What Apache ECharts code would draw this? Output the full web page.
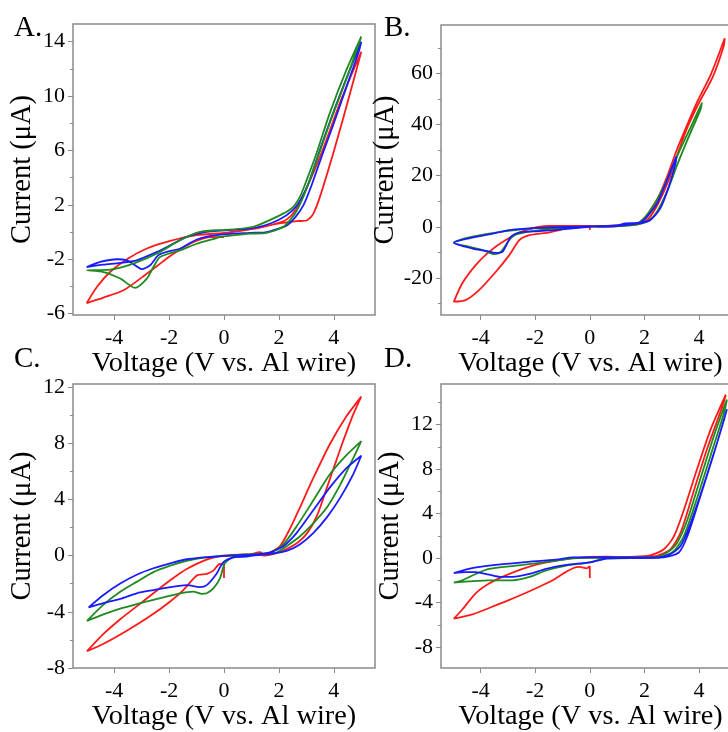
<!DOCTYPE html>
<html>
<head>
<meta charset="utf-8">
<script src="https://cdn.jsdelivr.net/npm/echarts@6/dist/echarts.min.js"></script>
<style>
html,body{margin:0;padding:0;background:#fff;overflow:hidden;}
#main{width:745px;height:732px;}
</style>
</head>
<body>
<div id="main"></div>
<script>
// voltage (V) / current (uA) pairs
var redA = [[0,-0.37],[-0.51,-0.37],[-1.24,-0.86],[-1.96,-1.76],[-2.44,-2.5],[-3.0,-3.35],[-3.66,-4.28],[-4.39,-4.82],[-5.0,-5.22],
  [-4.63,-4.04],[-4.15,-2.94],[-3.54,-2.0],[-2.81,-1.21],[-1.96,-0.65],[-0.99,-0.23],[0,-0.06],[1.0,0.22],[1.9,0.62],[2.3,0.95],
  [2.6,1.6],[3.0,3.2],[3.55,5.8],[4.3,9.9],[5.0,13.26],[4.82,11.9],[4.4,8.8],[3.98,5.8],[3.49,2.57],[3.25,1.34],[3.01,0.85],
  [2.64,0.8],[1.92,0.6],[1.07,0.23],[0.2,0.0]];
var greenA = [[0,0.15],[1.07,0.39],[1.92,1.12],[2.46,1.73],[2.76,2.57],[3.01,3.82],[3.37,5.8],[3.85,8.73],[4.46,11.92],[5.0,14.37],
  [4.52,11.6],[3.92,8.4],[3.45,5.7],[3.1,3.7],[2.85,2.4],[2.6,1.4],[2.35,0.75],[2.16,0.38],[1.55,-0.06],[0.94,-0.12],[-0.15,-0.36],
  [-0.27,-0.44],[-0.99,-0.86],[-1.6,-1.35],[-2.33,-1.84],[-2.57,-2.57],[-2.81,-3.42],[-3.24,-4.1],[-3.78,-3.42],[-4.39,-2.94],[-4.99,-2.81],
  [-4.14,-2.76],[-3.3,-2.32],[-2.44,-1.58],[-1.6,-0.6],[-0.87,0.01],[0,0.15]];
var blueA = [[0,0.12],[0.94,0.25],[1.5,0.5],[2.0,0.9],[2.5,1.6],[2.8,2.4],[3.1,3.7],[3.45,5.8],[4.0,8.9],[4.5,11.5],[5.0,14.0],
  [4.9,13.2],[4.5,10.9],[4.0,8.0],[3.6,5.8],[3.2,3.5],[2.9,2.0],[2.6,1.1],[2.3,0.5],[2.0,0.25],[1.5,-0.02],[0.94,-0.06],[-0.27,-0.22],
  [-0.99,-0.55],[-1.6,-1.21],[-2.09,-1.46],[-2.39,-1.7],[-2.69,-2.44],[-3.0,-2.73],[-3.24,-2.44],[-3.54,-2.08],[-3.9,-2.0],[-4.51,-2.2],[-5.0,-2.57],
  [-4.4,-2.4],[-3.78,-2.27],[-3.18,-2.08],[-2.44,-1.46],[-1.96,-0.97],[-1.36,-0.35],[-0.75,-0.03],[0,0.12]];

var redB = [[0,-1.3],[0,0],[-0.62,0.0],[-1.11,-1.3],[-1.48,-2.2],[-2.21,-3.26],[-2.58,-5.2],[-2.95,-11.1],[-3.44,-17.6],[-4.06,-24.8],
  [-4.55,-28.7],[-4.98,-29.3],[-4.67,-22.1],[-4.18,-15.0],[-3.69,-9.8],[-3.08,-5.2],[-2.34,-1.3],[-1.48,0.3],[0,0.3],[1.0,0.5],[1.72,1.3],
  [2.09,3.9],[2.46,10.4],[2.83,19.6],[3.2,30.5],[3.57,40.0],[3.94,49.0],[4.43,59.5],[4.94,73.7],[4.9,70.5],[4.5,58.5],[4.0,48.5],
  [3.6,39.5],[3.25,29.5],[2.9,18.5],[2.5,9.0],[2.15,3.2],[1.8,1.0],[1.0,0.3],[0.2,0.1]];
var greenB = [[0,0],[-0.62,-0.3],[-1.23,-0.65],[-2.09,-1.7],[-2.71,-3.0],[-2.95,-5.2],[-3.26,-9.8],[-3.5,-10.7],[-3.93,-9.1],[-4.43,-7.8],
  [-4.98,-6.25],[-4.3,-3.9],[-3.08,-1.7],[-1.85,-0.4],[0,0],[1.0,0.4],[1.5,0.9],[1.84,1.96],[2.21,6.5],[2.71,15.6],[3.2,27.7],[3.7,39.1],
  [4.1,48.3],[4.06,46],[3.57,33.9],[3.2,24.2],[2.83,13.8],[2.46,5.9],[2.09,2.0],[1.5,0.6],[0.5,0.1]];
var blueB = [[0,0],[-0.62,-0.65],[-1.85,-1.7],[-2.58,-2.2],[-2.89,-3.9],[-3.2,-9.8],[-3.44,-10.2],[-3.8,-9.4],[-4.3,-8.5],[-4.98,-6.25],
  [-4.43,-4.5],[-3.69,-3.0],[-2.95,-1.3],[-1.85,-0.4],[0,0.1],[1.0,0.5],[1.3,1.3],[1.84,1.6],[2.09,3.9],[2.46,9.1],[2.83,18.3],[3.17,27.4],
  [3.14,24.8],[2.89,15.6],[2.58,7.2],[2.21,2.6],[1.72,1.2],[1.0,0.3],[0.3,0.1]];

var redC = [[0,-1.6],[0,-0.65],[-0.15,-0.6],[-0.39,-1.07],[-0.63,-1.3],[-0.99,-1.41],[-1.48,-2.45],[-1.96,-3.26],[-2.69,-4.3],[-3.54,-5.34],
  [-4.39,-6.27],[-4.99,-6.8],[-4.39,-5.57],[-3.78,-4.53],[-3.18,-3.61],[-2.57,-2.68],[-1.96,-1.76],[-1.36,-0.96],[-0.75,-0.37],[-0.15,-0.03],
  [0.94,0.09],[1.31,0.25],[1.45,0.1],[1.67,0.21],[2.04,0.67],[2.4,1.9],[2.76,3.4],[3.25,5.5],[3.85,7.9],[4.46,9.9],[5.0,11.3],
  [4.7,10.0],[4.24,7.6],[3.76,4.9],[3.4,2.9],[3.05,1.65],[2.7,0.95],[2.16,0.35],[1.79,0.1],[1.5,0.0],[1.0,0.1],[0.3,0.05]];
var greenC = [[0.3,-0.1],[0.05,-0.5],[-0.03,-0.83],[-0.15,-1.64],[-0.39,-2.33],[-0.63,-2.68],[-0.82,-2.72],[-1.12,-2.56],[-1.6,-2.68],
  [-2.57,-3.15],[-3.18,-3.45],[-3.78,-3.77],[-4.39,-4.18],[-4.99,-4.65],[-4.39,-3.49],[-3.78,-2.57],[-3.18,-1.87],[-2.57,-1.18],[-1.96,-0.72],
  [-1.36,-0.37],[-0.75,-0.14],[-0.15,-0.03],[0.5,0.05],[1.0,0.1],[1.5,0.15],[1.79,0.3],[2.16,0.79],[2.64,2.06],[3.25,3.91],[3.85,5.76],
  [4.46,7.14],[5.0,8.14],[4.7,6.9],[4.24,5.06],[3.76,3.45],[3.25,2.29],[2.76,1.36],[2.28,0.67],[1.92,0.21],[1.6,0.1],[1.0,0.05],[0.3,-0.1]];
var blueC = [[0.82,-0.07],[0.33,-0.14],[-0.03,-0.48],[-0.27,-1.29],[-0.63,-2.1],[-0.87,-2.24],[-1.36,-2.1],[-1.96,-2.24],[-2.57,-2.45],
  [-3.18,-2.68],[-3.78,-3.08],[-4.39,-3.38],[-4.93,-3.68],[-4.39,-2.8],[-3.78,-1.99],[-3.18,-1.36],[-2.57,-0.9],[-1.96,-0.55],[-1.36,-0.26],
  [-0.51,-0.1],[0.44,0.02],[1.0,0.05],[1.5,0.15],[1.67,0.21],[2.16,0.67],[2.64,1.6],[3.25,3.22],[3.85,4.83],[4.46,6.22],[5.0,7.1],
  [4.7,5.76],[4.24,4.14],[3.76,2.75],[3.25,1.6],[2.76,0.79],[2.28,0.33],[1.8,0.15],[1.3,0.05],[0.82,-0.07]];

var redD = [[0,-1.8],[0,-0.74],[-0.12,-0.92],[-0.37,-0.8],[-0.62,-0.92],[-0.98,-1.41],[-1.36,-2.0],[-1.85,-2.58],[-2.46,-3.26],[-3.08,-3.9],
  [-3.69,-4.49],[-4.3,-5.07],[-4.98,-5.45],[-4.67,-4.63],[-4.18,-3.17],[-3.69,-2.29],[-3.08,-1.56],[-2.46,-0.97],[-1.85,-0.53],[-1.23,-0.24],
  [-0.62,0],[0.62,0.12],[1.23,0.1],[1.8,0.15],[2.21,0.25],[2.71,0.79],[3.08,1.96],[3.44,4.3],[3.94,8.1],[4.43,11.6],[4.98,14.7],
  [4.86,13.67],[4.3,9.86],[3.81,6.06],[3.32,2.26],[2.95,0.79],[2.46,0.2],[1.8,0.1],[1.0,0.05]];
var greenD = [[0.5,-0.05],[0,-0.38],[-0.86,-0.68],[-1.6,-1.12],[-2.21,-1.7],[-2.83,-2.0],[-3.69,-2.0],[-4.43,-2.1],[-4.98,-2.2],[-4.67,-2.0],
  [-4.18,-1.43],[-3.69,-0.97],[-2.46,-0.62],[-1.23,-0.24],[-0.62,-0.03],[0.5,0.05],[1.5,0.05],[2.34,0.06],[2.83,0.5],[3.2,1.37],[3.57,3.42],
  [4.06,7.23],[4.55,11.03],[5.02,14.26],[4.92,13.1],[4.43,9.28],[3.94,5.47],[3.44,1.96],[3.08,0.65],[2.58,0.06],[1.5,0.0],[0.5,-0.05]];
var blueD = [[0.62,-0.03],[0,-0.38],[-0.86,-0.62],[-1.6,-0.97],[-2.21,-1.43],[-2.83,-1.7],[-3.26,-1.7],[-3.69,-1.5],[-4.18,-1.27],[-4.55,-1.27],
  [-4.98,-1.36],[-4.43,-0.97],[-3.69,-0.68],[-2.46,-0.38],[-1.23,-0.15],[-0.62,0.06],[0.5,0.08],[1.5,0.05],[2.46,0.06],[2.95,0.35],[3.32,1.08],
  [3.69,3.13],[4.18,6.64],[4.67,10.45],[5.02,13.38],[4.92,12.5],[4.49,8.99],[4.0,5.18],[3.57,1.96],[3.26,0.5],[2.71,0.06],[1.5,0.0],[0.62,-0.03]];

// tick labels
var xTicks = [-4, -2, 0, 2, 4];
var yTicksA = [-6, -2, 2, 6, 10, 14], yMinorA = [-4, 0, 4, 8, 12];
var yTicksB = [-20, 0, 20, 40, 60], yMinorB = [-30, -10, 10, 30, 50, 70];
var yTicksC = [-8, -4, 0, 4, 8, 12], yMinorC = [-6, -2, 2, 6, 10];
var yTicksD = [-8, -4, 0, 4, 8, 12], yMinorD = [-6, -2, 2, 6, 10, 14];

var colors = ['#ff1a1a', '#1f8a1f', '#1a1aff'];
var font = 'Liberation Serif';
var axisGray = '#8a8a8a';

// B and D run past the right edge of the picture, as in the original figure
var panels = [
  {letter:'A.', lx:14, ly:14, left:73, top:24, width:302, height:291, xMin:-5.5, yMin:-6.1, yMax:15.3, ticks:yTicksA, minor:yMinorA, lines:[redA, blueA, greenA], cols:[0,2,1]},
  {letter:'B.', lx:384, ly:14, left:441, top:25, width:299, height:290, xMin:-5.45, yMin:-34.5, yMax:78.9, ticks:yTicksB, minor:yMinorB, lines:[redB, greenB, blueB], cols:[0,1,2]},
  {letter:'C.', lx:14, ly:345, left:73, top:384, width:302, height:291, xMin:-5.5, yMin:-8, yMax:12.2, ticks:yTicksC, minor:yMinorC, lines:[redC, greenC, blueC], cols:[0,1,2]},
  {letter:'D.', lx:384, ly:345, left:441, top:384, width:299, height:291, xMin:-5.45, yMin:-9.9, yMax:15.66, ticks:yTicksD, minor:yMinorD, lines:[redD, greenD, blueD], cols:[0,1,2]}
];

var option = {
  animation: false,
  backgroundColor: '#fff',
  title: [], grid: [], xAxis: [], yAxis: [], series: []
};

for (var i = 0; i < panels.length; i++) {
  var p = panels[i];
  option.title.push({
    text: p.letter, left: p.lx, top: p.ly, padding: 0,
    textStyle: {fontFamily: font, fontSize: 29, fontWeight: 'normal', color: '#000'}
  });
  option.grid.push({
    left: p.left, top: p.top, width: p.width, height: p.height,
    show: true, borderColor: axisGray, borderWidth: 1.5, backgroundColor: 'transparent'
  });
  option.xAxis.push({
    gridIndex: i, type: 'value', min: p.xMin, max: 5.5,
    name: 'Voltage (V vs. Al wire)', nameLocation: 'middle', nameGap: 24,
    nameTextStyle: {fontFamily: font, fontSize: 28.3, color: '#000'},
    axisLine: {show: false, onZero: false},
    axisTick: {show: true, length: 5, customValues: xTicks, lineStyle: {color: axisGray, width: 1}},
    axisLabel: {customValues: xTicks, margin: 12, fontFamily: font, fontSize: 22, color: '#000'},
    splitLine: {show: false}
  });
  option.yAxis.push({
    gridIndex: i, type: 'value', min: p.yMin, max: p.yMax, position: 'left',
    name: 'Current (\u03bcA)', nameLocation: 'middle', nameGap: 36,
    nameTextStyle: {fontFamily: font, fontSize: 28.5, color: '#000'},
    axisLine: {show: false, onZero: false},
    axisTick: {show: true, length: 5, customValues: p.ticks, lineStyle: {color: axisGray, width: 1}},
    axisLabel: {customValues: p.ticks, margin: 8, fontFamily: font, fontSize: 22, color: '#000'},
    splitLine: {show: false}
  });
  // minor ticks on a second axis over the same range
  option.yAxis.push({
    gridIndex: i, type: 'value', min: p.yMin, max: p.yMax, position: 'left', offset: 0,
    axisLine: {show: false, onZero: false},
    axisTick: {show: true, length: 3, customValues: p.minor, lineStyle: {color: axisGray, width: 1}},
    axisLabel: {show: false},
    splitLine: {show: false}
  });
  for (var j = 0; j < p.lines.length; j++) {
    option.series.push({
      type: 'line', xAxisIndex: i, yAxisIndex: i * 2,
      data: p.lines[j], showSymbol: false, smooth: 0.25,
      lineStyle: {color: colors[p.cols[j]], width: 1.8},
      itemStyle: {color: colors[p.cols[j]]}
    });
  }
}

var chart = echarts.init(document.getElementById('main'));
chart.setOption(option);
window.onresize = chart.resize;
</script>
</body>
</html>
